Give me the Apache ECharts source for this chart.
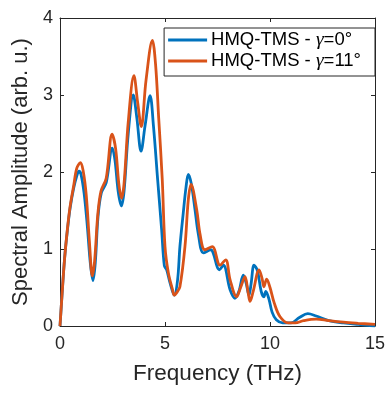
<!DOCTYPE html>
<html><head><meta charset="utf-8">
<script src="https://cdn.jsdelivr.net/npm/echarts@6/dist/echarts.min.js"></script>
<style>html,body{margin:0;padding:0;background:#fff}#c{width:390px;height:394px}</style>
</head><body><div id="c"></div>
<script>
var seriesNames = ['HMQ-TMS - γ=0°', 'HMQ-TMS - γ=11°'];
var xTicks = [0, 5, 10, 15];
var yTicks = [0, 1, 2, 3, 4];

var blueFreq = [0,0.1,0.22,0.35,0.48,0.65,0.8,0.9,1.0,1.15,1.3,1.45,1.57,1.68,1.81,1.97,2.2,2.49,2.62,2.77,2.92,3.05,3.25,3.49,3.66,3.86,4.05,4.29,4.45,4.65,4.84,4.97,5.08,5.24,5.44,5.6,5.71,5.87,6.0,6.11,6.25,6.43,6.59,6.83,7.17,7.59,7.78,8.1,8.33,8.52,8.73,8.87,9.0,9.1,9.24,9.4,9.58,9.71,9.8,9.95,10.1,10.3,10.6,11.0,11.4,11.8,12.2,12.8,13.5,14.2,15];
var blueAmp  = [0,0.42,0.88,1.24,1.53,1.79,1.95,2.01,1.97,1.72,1.3,0.8,0.59,0.82,1.42,1.73,1.86,2.31,2.15,1.75,1.56,1.75,2.5,3.0,2.7,2.27,2.6,2.99,2.6,1.9,1.25,0.78,0.73,0.56,0.40,0.6,1.03,1.47,1.8,1.97,1.85,1.51,1.19,0.95,0.99,0.73,0.79,0.47,0.36,0.45,0.66,0.55,0.40,0.55,0.79,0.72,0.45,0.38,0.45,0.35,0.18,0.08,0.04,0.04,0.11,0.16,0.13,0.07,0.04,0.02,0.0];

var orangeFreq = [0,0.1,0.22,0.35,0.48,0.65,0.8,0.97,1.1,1.25,1.4,1.54,1.65,1.8,1.95,2.2,2.48,2.65,2.8,2.93,3.05,3.25,3.52,3.7,3.87,4.1,4.4,4.55,4.7,4.87,5.0,5.16,5.36,5.44,5.55,5.71,5.95,6.11,6.24,6.51,6.67,6.9,7.25,7.62,7.89,8.1,8.41,8.6,8.81,8.95,9.05,9.2,9.48,9.62,9.71,9.84,10.0,10.2,10.48,10.87,11.2,11.6,12.2,12.8,13.5,14.2,15];
var orangeAmp  = [0,0.42,0.88,1.25,1.55,1.82,2.05,2.12,2.02,1.7,1.1,0.65,0.85,1.45,1.75,1.92,2.49,2.3,1.85,1.66,1.85,2.65,3.25,2.9,2.59,3.2,3.71,3.4,2.7,1.9,1.03,0.69,0.47,0.40,0.43,0.51,1.03,1.64,1.84,1.51,1.19,0.99,1.03,0.79,0.86,0.6,0.38,0.5,0.64,0.45,0.32,0.45,0.73,0.62,0.51,0.61,0.5,0.3,0.12,0.04,0.04,0.07,0.09,0.07,0.05,0.035,0.02];

function pairs(xs, ys) { return xs.map(function (x, i) { return [x, ys[i]]; }); }

var FONT = 'Liberation Sans, Arial, Helvetica, sans-serif';
var AX = '#262626';
var chart = echarts.init(document.getElementById('c'), null, {renderer: 'canvas'});

function baseAxis(extra) {
  var a = {
    type: 'value',
    axisLine: {show: true, onZero: false, lineStyle: {color: AX, width: 1}},
    axisTick: {show: true, inside: true, length: 4, lineStyle: {color: AX}},
    splitLine: {show: false},
    axisLabel: {show: false}
  };
  for (var k in extra) a[k] = extra[k];
  return a;
}

chart.setOption({
  animation: false,
  backgroundColor: '#fff',
  grid: {left: 60, right: 15, top: 18, bottom: 68, containLabel: false},
  xAxis: [
    baseAxis({min: xTicks[0], max: xTicks[xTicks.length - 1], interval: 5, position: 'bottom',
      name: 'Frequency (THz)', nameLocation: 'middle', nameGap: 36,
      nameTextStyle: {fontFamily: FONT, fontSize: 22.5, color: '#262626'},
      axisLabel: {show: true, margin: 9, fontFamily: FONT, fontSize: 18, color: '#262626'}}),
    baseAxis({min: xTicks[0], max: xTicks[xTicks.length - 1], interval: 5, position: 'top'})
  ],
  yAxis: [
    baseAxis({min: yTicks[0], max: yTicks[yTicks.length - 1], interval: 1, position: 'left',
      name: 'Spectral Amplitude (arb. u.)', nameLocation: 'middle', nameGap: 26,
      nameTextStyle: {fontFamily: FONT, fontSize: 22, color: '#262626'},
      axisLabel: {show: true, margin: 7, fontFamily: FONT, fontSize: 18, color: '#262626'}}),
    baseAxis({min: yTicks[0], max: yTicks[yTicks.length - 1], interval: 1, position: 'right'})
  ],
  legend: {
    show: true,
    orient: 'vertical',
    right: 15, top: 28,
    padding: [2, 14, 5, 4],
    itemGap: 1,
    itemWidth: 39, itemHeight: 3,
    icon: 'rect',
    backgroundColor: '#fff',
    borderColor: '#262626', borderWidth: 1,
    data: seriesNames,
    formatter: function (n) {
      var parts = n.split('γ');
      return '{a|' + parts[0] + '}{g|γ}{a|' + parts[1] + '}';
    },
    textStyle: {
      fontFamily: FONT, fontSize: 18.5, color: '#000', padding: [0, 0, 0, -1],
      rich: {
        a: {fontFamily: FONT, fontSize: 18.5, color: '#000', lineHeight: 21},
        g: {fontFamily: 'Liberation Serif, Times New Roman, serif', fontStyle: 'italic', fontSize: 19.5, color: '#000', lineHeight: 21}
      }
    }
  },
  series: [
    {name: seriesNames[0], type: 'line', data: pairs(blueFreq, blueAmp), showSymbol: false, symbol: 'none',
     smooth: 0.35, color: '#0072BD', lineStyle: {width: 2.8, color: '#0072BD'}},
    {name: seriesNames[1], type: 'line', data: pairs(orangeFreq, orangeAmp), showSymbol: false, symbol: 'none',
     smooth: 0.35, color: '#D95319', lineStyle: {width: 2.8, color: '#D95319'}}
  ]
});
</script></body></html>
